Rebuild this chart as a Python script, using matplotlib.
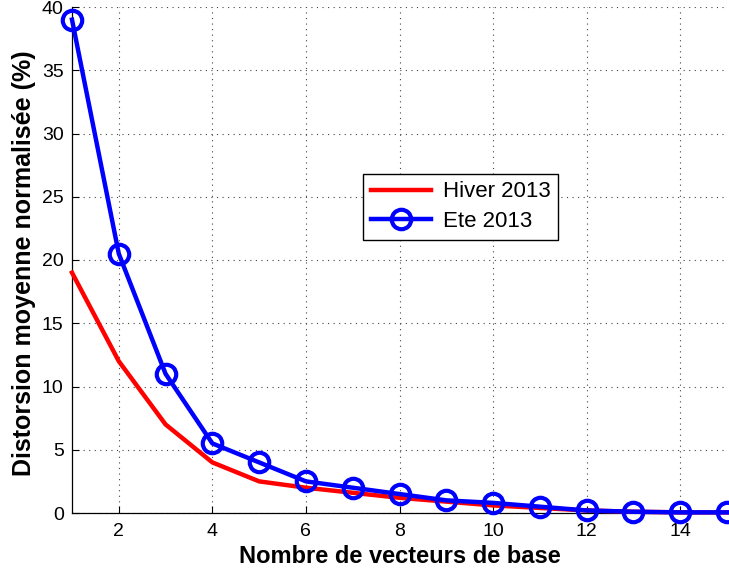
import matplotlib
matplotlib.use("Agg")
import matplotlib.pyplot as plt

x = list(range(1, 16))
hiver = [19, 12, 7, 4, 2.5, 2, 1.6, 1.2, 0.9, 0.6, 0.4, 0.2, 0.1, 0.05, 0.05]
ete = [39, 20.5, 11, 5.5, 4, 2.5, 2, 1.5, 1, 0.8, 0.5, 0.2, 0.1, 0.05, 0.05]
xticks = [2, 4, 6, 8, 10, 12, 14]
yticks = [0, 5, 10, 15, 20, 25, 30, 35, 40]

plt.rcParams['font.family'] = ['Liberation Sans', 'DejaVu Sans']
fig = plt.figure(figsize=(7.29, 5.73), dpi=100)
ax = fig.add_axes([72/729, 1-513/573, 655/729, 506/573])

ax.plot(x, hiver, color='#ff0000', lw=3.2, label='Hiver 2013', clip_on=False, zorder=3)
ax.plot(x, ete, color='#0000ff', lw=3.2, marker='o', markersize=14, markerfacecolor='none',
        markeredgewidth=3, markeredgecolor='#0000ff', label='Ete 2013', clip_on=False, zorder=4)

ax.set_xlim(1, 15)
ax.set_ylim(0, 40)
ax.set_xticks(xticks)
ax.set_yticks(yticks)
ax.tick_params(direction='in', labelsize=14, length=5, width=0.8, top=False, right=False)
ax.tick_params(axis='x', pad=7)
ax.tick_params(axis='y', pad=6)
ax.grid(True, linestyle=(0, (1, 4)), color='#444444', linewidth=0.8)
for s in ['top', 'right']:
    ax.spines[s].set_visible(False)
ax.spines['left'].set_linewidth(0.9)
ax.spines['bottom'].set_linewidth(0.9)

ax.set_xlabel('Nombre de vecteurs de base', fontsize=17, fontweight='bold', labelpad=4)
ax.set_ylabel('Distorsion moyenne normalisée (%)', fontsize=18, fontweight='bold', labelpad=4)
ax.yaxis.set_label_coords(-0.055, 0.494)

leg = ax.legend(loc='lower left', bbox_to_anchor=(0.444, 0.5395), borderaxespad=0, fontsize=16,
                fancybox=False, framealpha=1, edgecolor='black', handlelength=2.7,
                handletextpad=0.55, borderpad=0.35, labelspacing=0.4)
leg.get_frame().set_linewidth(1.0)

fig.savefig('out.png', dpi=100)
